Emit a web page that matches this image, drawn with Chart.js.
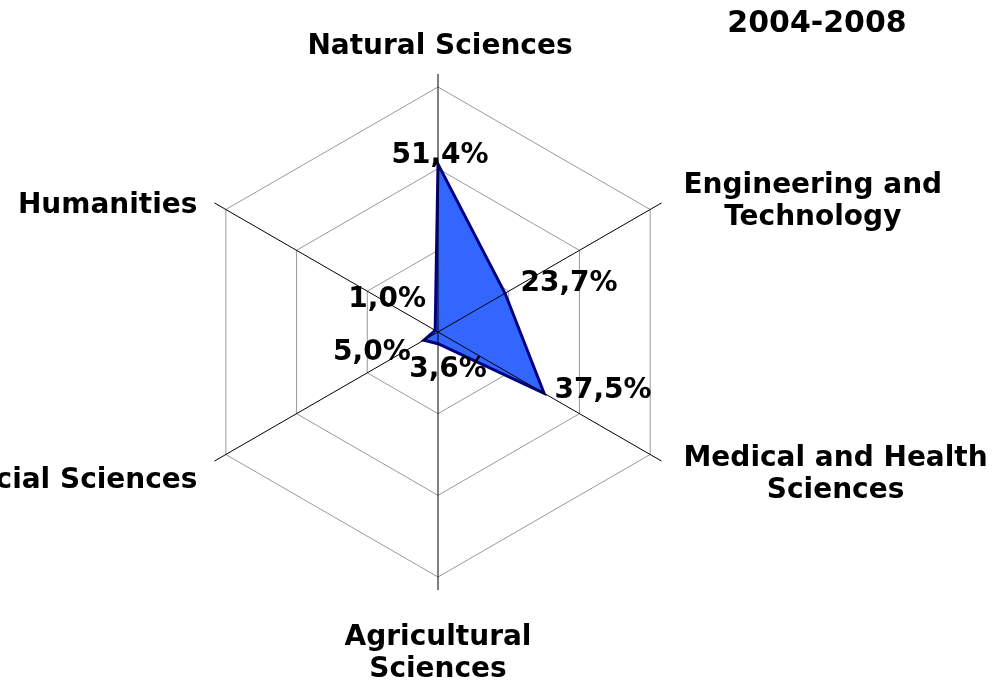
<!DOCTYPE html>
<html>
<head>
<meta charset="utf-8">
<script src="https://cdn.jsdelivr.net/npm/chart.js@4.4.0/dist/chart.umd.min.js"></script>
<style>
html, body { margin: 0; padding: 0; background: #fff; }
#wrap { position: relative; width: 998px; height: 683px; }
</style>
</head>
<body>
<div id="wrap"><canvas id="radar"></canvas></div>
<script>
// data
var categories = [['Natural Sciences'], ['Engineering and', 'Technology'], ['Medical and Health', 'Sciences'], ['Agricultural', 'Sciences'], ['Social Sciences'], ['Humanities']];
var shares = [51.4, 23.7, 37.5, 3.6, 5.0, 1.0];
var shareLabels = ['51,4%', '23,7%', '37,5%', '3,6%', '5,0%', '1,0%'];
var ringTicks = [25, 50, 75];
var periodTitle = '2004-2008';

// look
var labelFont = 'bold 28px "DejaVu Sans", Verdana, sans-serif';
var axisOverhang = 79;   // axes run a little past the outer ring
// axis titles, relative to the end of each axis line
var axisTitlePos = [
  {dx: 2, dy: -27, align: 'center'},
  {dx: 22, dy: -1, align: 'left'},
  {dx: 22, dy: 14, align: 'left'},
  {dx: 0, dy: 64, align: 'center'},
  {dx: -17, dy: 20, align: 'right'},
  {dx: -17, dy: 3, align: 'right'}
];
// value labels, centre offset from each point
var valueLabelPos = [[2, -8], [64, -10], [59, -3], [10, 26], [-52, 13], [-48, -31]];

var radarExtras = {
  id: 'radarExtras',
  afterDatasetsDraw: function(chart) {
    var ctx = chart.ctx;
    var scale = chart.scales.r;
    var far = scale.getDistanceFromCenterForValue(axisOverhang);
    ctx.save();

    // axis lines on top of the fill
    ctx.strokeStyle = '#000';
    ctx.lineWidth = 1;
    for (var i = 0; i < categories.length; i++) {
      var p = scale.getPointPosition(i, far);
      ctx.beginPath();
      ctx.moveTo(scale.xCenter, scale.yCenter);
      ctx.lineTo(p.x, p.y);
      ctx.stroke();
    }

    ctx.fillStyle = '#000';
    ctx.font = labelFont;
    ctx.textBaseline = 'middle';
    ctx.textAlign = 'center';

    // axis titles
    var lineH = 32;
    for (var j = 0; j < categories.length; j++) {
      var lines = categories[j];
      var end = scale.getPointPosition(j, far);
      var pos = axisTitlePos[j];
      var w = 0;
      lines.forEach(function(t) { w = Math.max(w, ctx.measureText(t).width); });
      var cx = end.x + pos.dx;
      if (pos.align === 'left') cx += w / 2;
      if (pos.align === 'right') cx -= w / 2;
      var cy = end.y + pos.dy - (lines.length - 1) * lineH / 2;
      lines.forEach(function(t, k) { ctx.fillText(t, cx, cy + k * lineH); });
    }

    // value labels
    var meta = chart.getDatasetMeta(0);
    meta.data.forEach(function(pt, k) {
      ctx.fillText(shareLabels[k], pt.x + valueLabelPos[k][0], pt.y + valueLabelPos[k][1]);
    });

    // period title
    ctx.font = 'bold 30px "DejaVu Sans", Verdana, sans-serif';
    ctx.fillText(periodTitle, chart.width - 181, 24);
    ctx.restore();
  }
};

new Chart(document.getElementById('radar'), {
  type: 'radar',
  data: {
    labels: categories,
    datasets: [{
      data: shares,
      fill: true,
      backgroundColor: '#3366ff',
      borderColor: '#000080',
      borderWidth: 3,
      borderJoinStyle: 'miter',
      pointRadius: 0,
      pointHoverRadius: 0,
      tension: 0
    }]
  },
  options: {
    responsive: true,
    maintainAspectRatio: false,
    animation: false,
    layout: { padding: { left: 193, right: 315, top: 87, bottom: 106 } },
    plugins: {
      legend: { display: false },
      tooltip: { enabled: false },
      title: { display: false }
    },
    scales: {
      r: {
        min: 0,
        max: ringTicks[ringTicks.length - 1],
        ticks: { display: false, stepSize: ringTicks[0] },
        grid: { color: '#999999', lineWidth: 1, circular: false },
        angleLines: { display: false },
        pointLabels: { display: false }
      }
    }
  },
  plugins: [radarExtras]
});
</script>
</body>
</html>
